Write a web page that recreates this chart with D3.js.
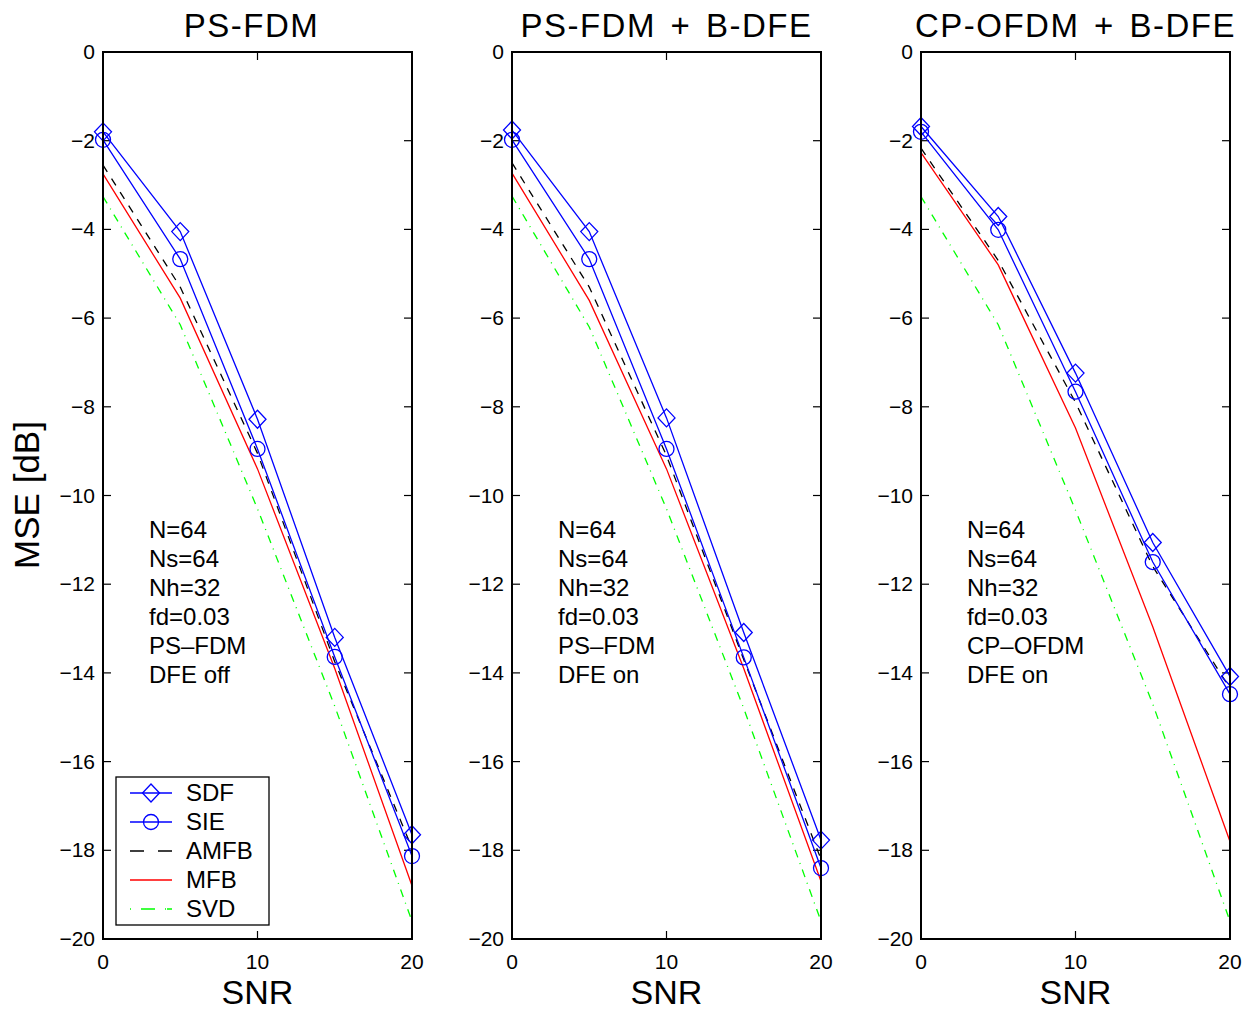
<!DOCTYPE html>
<html>
<head>
<meta charset="utf-8">
<script src="https://cdn.jsdelivr.net/npm/d3@7"></script>
<style>
  body { margin: 0; background: #fff; }
  text { font-family: "Liberation Sans", Arial, sans-serif; }
</style>
</head>
<body>
<div id="chart"></div>
<script>
// data (MSE in dB vs SNR)
const snr = [0, 5, 10, 15, 20];
const titles = ["PS-FDM", "PS-FDM + B-DFE", "CP-OFDM + B-DFE"];
const seriesNames = ["SDF", "SIE", "AMFB", "MFB", "SVD"];

const sdf = [
  [-1.80, -4.05, -8.28, -13.20, -17.65],
  [-1.76, -4.05, -8.25, -13.09, -17.77],
  [-1.68, -3.71, -7.24, -11.06, -14.08]
];
const sie = [
  [-1.98, -4.67, -8.95, -13.64, -18.13],
  [-1.98, -4.67, -8.95, -13.65, -18.40],
  [-1.80, -4.01, -7.66, -11.50, -14.48]
];
const amfb = [
  [-2.55, -5.30, -9.05, -13.75, -17.95],
  [-2.50, -5.30, -9.10, -13.70, -18.20],
  [-2.17, -4.70, -7.90, -11.60, -14.35]
];
const mfb = [
  [-2.75, -5.55, -9.40, -13.90, -18.80],
  [-2.73, -5.60, -9.40, -13.90, -18.70],
  [-2.27, -4.80, -8.48, -12.96, -17.80]
];
const svd = [
  [-3.26, -6.15, -10.30, -14.75, -19.60],
  [-3.25, -6.20, -10.30, -14.80, -19.60],
  [-3.26, -6.15, -10.33, -14.70, -19.60]
];

const notes = [
  ["N=64", "Ns=64", "Nh=32", "fd=0.03", "PS\u2013FDM", "DFE off"],
  ["N=64", "Ns=64", "Nh=32", "fd=0.03", "PS\u2013FDM", "DFE on"],
  ["N=64", "Ns=64", "Nh=32", "fd=0.03", "CP\u2013OFDM", "DFE on"]
];

const yTicks = [-20, -18, -16, -14, -12, -10, -8, -6, -4, -2, 0];
const xTicks = [0, 10, 20];

// styles per series
const styles = {
  SDF:  {color: "#0000ff", dash: null,     marker: "diamond"},
  SIE:  {color: "#0000ff", dash: null,     marker: "circle"},
  AMFB: {color: "#000000", dash: "8,8",    marker: null},
  MFB:  {color: "#ff0000", dash: null,     marker: null},
  SVD:  {color: "#00ff00", dash: "8,6,1,6", marker: null}
};

const W = 1255, H = 1010;
const panelLeft = [103, 512, 921];
const panelW = 309;
const plotTop = 52, plotBottom = 939;

const svg = d3.select("#chart").append("svg")
  .attr("width", W)
  .attr("height", H);

const y = d3.scaleLinear().domain([-20, 0]).range([plotBottom, plotTop]);

// matlab-like diamond marker
const diamond = "M0,-9L8.5,0L0,9L-8.5,0Z";

titles.forEach((title, p) => {
  const x = d3.scaleLinear().domain([0, 20]).range([panelLeft[p], panelLeft[p] + panelW]);
  const g = svg.append("g");
  const data = {SDF: sdf[p], SIE: sie[p], AMFB: amfb[p], MFB: mfb[p], SVD: svd[p]};

  // ticks inside on all sides
  const tickLen = 8;
  yTicks.forEach(t => {
    g.append("line").attr("x1", x(0)).attr("x2", x(0) + tickLen)
      .attr("y1", y(t)).attr("y2", y(t)).attr("stroke", "#000").attr("stroke-width", 1.2);
    g.append("line").attr("x1", x(20)).attr("x2", x(20) - tickLen)
      .attr("y1", y(t)).attr("y2", y(t)).attr("stroke", "#000").attr("stroke-width", 1.2);
    g.append("text")
      .attr("x", x(0) - 8).attr("y", y(t) + 7)
      .attr("text-anchor", "end")
      .attr("font-size", 21)
      .text(t < 0 ? "\u2212" + Math.abs(t) : t);
  });
  xTicks.forEach(t => {
    g.append("line").attr("x1", x(t)).attr("x2", x(t))
      .attr("y1", y(-20)).attr("y2", y(-20) - tickLen).attr("stroke", "#000").attr("stroke-width", 1.2);
    g.append("line").attr("x1", x(t)).attr("x2", x(t))
      .attr("y1", y(0)).attr("y2", y(0) + tickLen).attr("stroke", "#000").attr("stroke-width", 1.2);
    g.append("text")
      .attr("x", x(t)).attr("y", y(-20) + 30)
      .attr("text-anchor", "middle")
      .attr("font-size", 21)
      .text(t);
  });

  // curves
  const line = d3.line().x((d, i) => x(snr[i])).y(d => y(d));
  ["SVD", "MFB", "AMFB", "SIE", "SDF"].forEach(name => {
    const s = styles[name];
    g.append("path")
      .datum(data[name])
      .attr("d", line)
      .attr("fill", "none")
      .attr("stroke", s.color)
      .attr("stroke-width", 1.3)
      .attr("stroke-dasharray", s.dash);
    if (s.marker === "circle") {
      g.selectAll(null).data(data[name]).enter().append("circle")
        .attr("cx", (d, i) => x(snr[i])).attr("cy", d => y(d))
        .attr("r", 7.5).attr("fill", "none").attr("stroke", s.color).attr("stroke-width", 1.3);
    } else if (s.marker === "diamond") {
      g.selectAll(null).data(data[name]).enter().append("path")
        .attr("d", diamond)
        .attr("transform", (d, i) => `translate(${x(snr[i])},${y(d)})`)
        .attr("fill", "none").attr("stroke", s.color).attr("stroke-width", 1.3);
    }
  });

  // frame
  g.append("rect")
    .attr("x", x(0)).attr("y", y(0))
    .attr("width", panelW).attr("height", plotBottom - plotTop)
    .attr("fill", "none").attr("stroke", "#000").attr("stroke-width", 2);

  // annotation
  g.append("g").selectAll("text").data(notes[p]).enter().append("text")
    .attr("x", x(0) + 46)
    .attr("y", (d, i) => 538 + i * 29)
    .attr("font-size", 24)
    .text(d => d);

  // title
  svg.append("text")
    .attr("x", x(10) - (p === 0 ? 6 : 0))
    .attr("y", 37)
    .attr("text-anchor", "middle")
    .attr("font-family", "DejaVu Sans")
    .attr("font-size", 33)
    .attr("letter-spacing", 1.5)
    .attr("word-spacing", 4)
    .text(title);

  // x label
  svg.append("text")
    .attr("x", x(10))
    .attr("y", 1004)
    .attr("text-anchor", "middle")
    .attr("font-size", 34)
    .text("SNR");
});

// y label
svg.append("text")
  .attr("transform", "translate(39,495) rotate(-90)")
  .attr("text-anchor", "middle")
  .attr("font-size", 35)
  .text("MSE [dB]");

// legend in first panel
const leg = svg.append("g").attr("transform", "translate(116,777)");
leg.append("rect")
  .attr("width", 153).attr("height", 148)
  .attr("fill", "#fff").attr("stroke", "#000").attr("stroke-width", 1.3);
seriesNames.forEach((name, i) => {
  const s = styles[name];
  const ly = 16 + i * 29;
  leg.append("line")
    .attr("x1", 14).attr("x2", 56).attr("y1", ly).attr("y2", ly)
    .attr("stroke", s.color).attr("stroke-width", 1.3)
    .attr("stroke-dasharray", name === "AMFB" ? "14,14" : name === "SVD" ? "1,10,14,10,1" : null);
  if (s.marker === "circle") {
    leg.append("circle").attr("cx", 35).attr("cy", ly).attr("r", 7.5)
      .attr("fill", "none").attr("stroke", s.color).attr("stroke-width", 1.3);
  } else if (s.marker === "diamond") {
    leg.append("path").attr("d", diamond)
      .attr("transform", `translate(35,${ly})`)
      .attr("fill", "none").attr("stroke", s.color).attr("stroke-width", 1.3);
  }
  leg.append("text")
    .attr("x", 70).attr("y", ly + 8)
    .attr("font-size", 24)
    .text(name);
});
</script>
</body>
</html>
